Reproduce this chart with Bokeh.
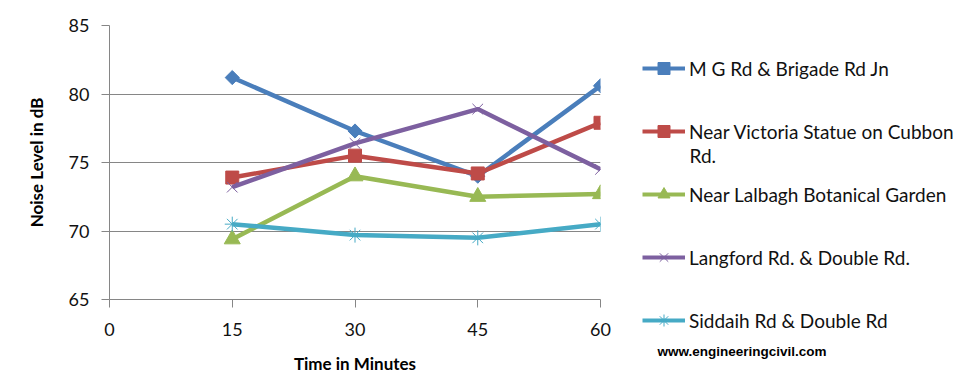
from bokeh.plotting import figure
from bokeh.layouts import row
from bokeh.models import Range1d, FixedTicker, Legend, LegendItem, Label
from bokeh.embed import file_html
from bokeh.resources import INLINE

minutes = [15, 30, 45, 60]
mg_rd = [81.2, 77.3, 74.0, 80.6]
victoria = [73.9, 75.5, 74.2, 77.9]
lalbagh = [69.4, 74.0, 72.5, 72.7]
langford = [73.2, 76.4, 78.9, 74.5]
siddaih = [70.5, 69.7, 69.5, 70.5]
x_ticks = [0, 15, 30, 45, 60]
y_ticks = [65, 70, 75, 80, 85]
names = ["M G Rd & Brigade Rd Jn", "Near Victoria Statue on Cubbon",
         "Near Lalbagh Botanical Garden", "Langford Rd. & Double Rd.",
         "Siddaih Rd & Double Rd"]
name_wrap = "Rd."
watermark = "www.engineeringcivil.com"

FONT = "Lato"
GRID = "#868686"
TXT = "#111111"

# ---- main chart ----
p = figure(width=620, height=376, x_range=Range1d(0, 60), y_range=Range1d(65, 85),
           output_backend="svg", toolbar_location=None,
           min_border_left=109, min_border_right=20, min_border_top=25, min_border_bottom=40)
p.outline_line_color = None
p.background_fill_color = "white"
p.border_fill_color = "white"
p.xgrid.grid_line_color = None
p.ygrid.grid_line_color = GRID
p.ygrid.grid_line_width = 1
p.xaxis.ticker = FixedTicker(ticks=x_ticks)
p.yaxis.ticker = FixedTicker(ticks=y_ticks)
for ax in (p.xaxis[0], p.yaxis[0]):
    ax.axis_line_color = GRID
    ax.major_tick_line_color = GRID
    ax.major_tick_out = 8
    ax.major_tick_in = 0
    ax.minor_tick_line_color = None
    ax.major_label_text_font = FONT
    ax.major_label_text_font_size = "18px"
    ax.major_label_text_color = TXT
    ax.axis_label_text_font = FONT
    ax.axis_label_text_font_size = "17px"
    ax.axis_label_text_font_style = "bold"
    ax.axis_label_text_color = "black"
p.xaxis.axis_label = "Time in Minutes"
p.yaxis.axis_label = "Noise Level in dB"
p.xaxis.major_label_standoff = 15
p.yaxis.major_label_standoff = 12
p.xaxis.axis_label_standoff = 14
p.yaxis.axis_label_standoff = 19

# ---- legend panel (separate figure, series kept out of its view) ----
q = figure(width=342, height=376, x_range=Range1d(-10, -9), y_range=Range1d(-10, -9),
           output_backend="svg", toolbar_location=None,
           x_axis_location=None, y_axis_location=None,
           min_border_left=0, min_border_right=0, min_border_top=0, min_border_bottom=0)
q.outline_line_color = None
q.grid.grid_line_color = None
q.border_fill_color = "white"
q.background_fill_color = "white"

unaligned = "frame_align" in q.properties()
if unaligned:
    p.frame_align = False
    q.frame_align = False
    leg_y, wrap_y, wm_y = 41, 221, 25
else:
    leg_y, wrap_y, wm_y = -36, 144, -52

series = [
    (mg_rd, "#4A7EBB", dict(marker="square", size=10, angle=0.785398)),
    (victoria, "#BE4B48", dict(marker="square", size=13)),
    (lalbagh, "#98B954", dict(marker="triangle", size=16)),
    (langford, "#7D60A0", dict(marker="x", size=15, line_width=1)),
    (siddaih, "#46AAC5", dict(marker="asterisk", size=15, line_width=1)),
]
items = []
for (vals, col, mk), name in zip(series, names):
    p.line(minutes, vals, line_color=col, line_width=4.5)
    p.scatter(minutes, vals, fill_color=col, line_color=col, **mk)
    l = q.line(minutes, vals, line_color=col, line_width=4)
    s = q.scatter(minutes, vals, fill_color=col, line_color=col, **mk)
    items.append(LegendItem(label=name, renderers=[l, s]))

legend = Legend(items=items, location=(22, leg_y), orientation="vertical",
                padding=0, margin=0, spacing=33, glyph_width=43, glyph_height=30,
                label_height=21, label_standoff=4, border_line_color=None,
                background_fill_alpha=0, label_text_font=FONT,
                label_text_font_size="19px", label_text_color=TXT)
q.add_layout(legend, "center")

q.add_layout(Label(x=69, y=wrap_y, x_units="screen", y_units="screen", text=name_wrap,
                   text_font=FONT, text_font_size="19px", text_color=TXT,
                   text_baseline="middle"))
q.add_layout(Label(x=37, y=wm_y, x_units="screen", y_units="screen", text=watermark,
                   text_font="Liberation Sans", text_font_size="13.5px",
                   text_font_style="bold", text_color="black", text_baseline="middle"))

layout = row(p, q, spacing=0)
open("out.html", "w").write(file_html(layout, INLINE))
